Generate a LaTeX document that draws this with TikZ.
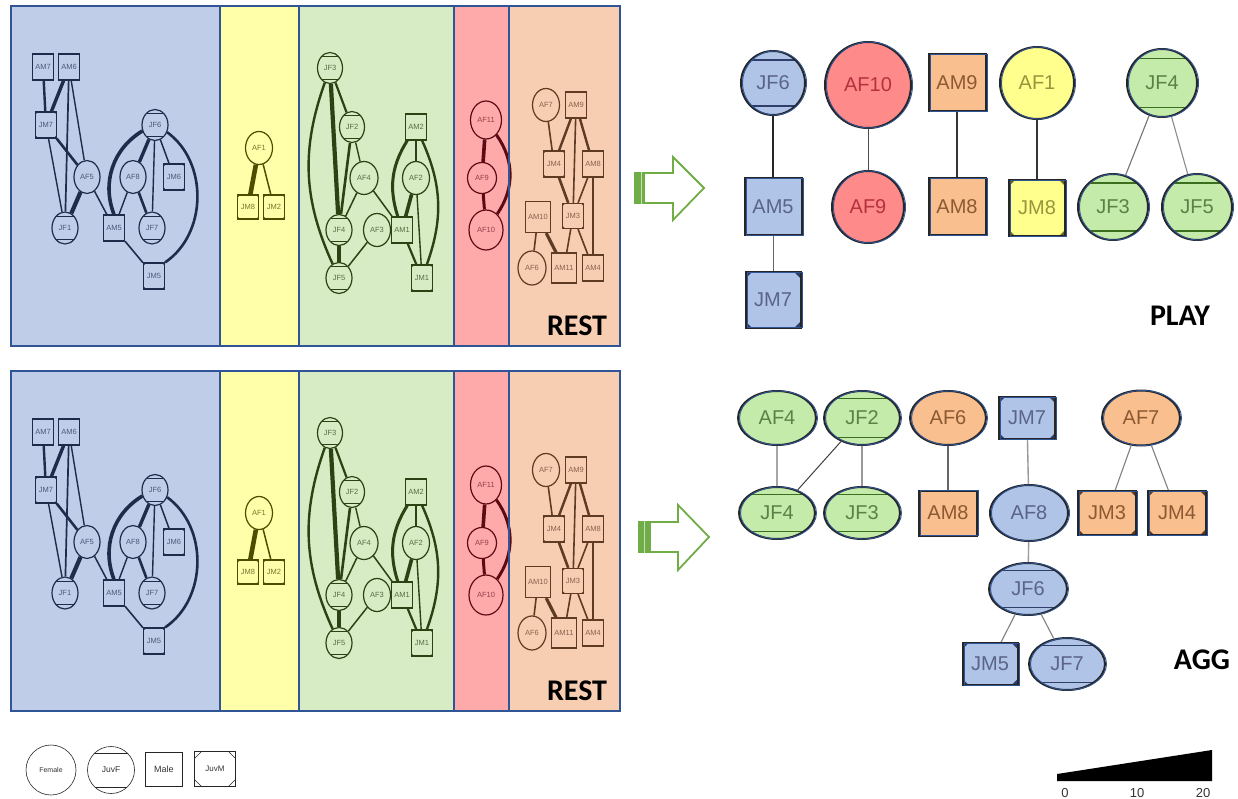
\documentclass[tikz,border=0pt]{standalone}
\usepackage{fontspec}
\setmainfont{Liberation Sans}
\newfontfamily\calibfont{Carlito}
\usetikzlibrary{shapes.geometric,calc}

% panel backgrounds and frame
\definecolor{frameblue}{HTML}{2F5597}
\definecolor{pblue}{HTML}{BFCDE8}
\definecolor{pyellow}{HTML}{FFFFAA}
\definecolor{pgreen}{HTML}{D7EBC5}
\definecolor{pred}{HTML}{FFAAAA}
\definecolor{porange}{HTML}{F8CEB2}
% panel line colours
\definecolor{eblue}{HTML}{1E2B4A}
\definecolor{eyellow}{HTML}{4D4D00}
\definecolor{egreen}{HTML}{2B4213}
\definecolor{ered}{HTML}{5C0A14}
\definecolor{eorange}{HTML}{5E3B22}
% panel text colours
\definecolor{tblue}{HTML}{4E5878}
\definecolor{tyellow}{HTML}{76762E}
\definecolor{tgreen}{HTML}{586C44}
\definecolor{tred}{HTML}{94404A}
\definecolor{torange}{HTML}{8A624E}
% large graph fills, text and marks
\definecolor{nblue}{HTML}{B0C4E8}
\definecolor{nred}{HTML}{FF8A8A}
\definecolor{norange}{HTML}{F9BF8E}
\definecolor{nyellow}{HTML}{FFFF8E}
\definecolor{ngreen}{HTML}{C4EBAA}
\definecolor{xblue}{HTML}{5A6488}
\definecolor{xred}{HTML}{B4323C}
\definecolor{xorange}{HTML}{8C5A32}
\definecolor{xyellow}{HTML}{96963C}
\definecolor{xgreen}{HTML}{5A8246}
\definecolor{dblue}{HTML}{2F3F6A}
\definecolor{dyellow}{HTML}{6B6B10}
\definecolor{dgreen}{HTML}{3C6E20}
\definecolor{dorange}{HTML}{5E3B22}
\definecolor{arrgreen}{HTML}{70AD47}

\colorlet{ecol}{eblue}
\colorlet{tcol}{tblue}

\tikzset{
  jfchords/.style 2 args={path picture={
    \draw[draw=#2, line width=#1]
      ($(path picture bounding box.north west)!0.14!(path picture bounding box.south west)$) --
      ($(path picture bounding box.north east)!0.14!(path picture bounding box.south east)$)
      ($(path picture bounding box.north west)!0.86!(path picture bounding box.south west)$) --
      ($(path picture bounding box.north east)!0.86!(path picture bounding box.south east)$);}},
  jmcorners/.style 2 args={path picture={
    \fill[#2] (path picture bounding box.north west) -- ++(#1,0pt) -- ++(-#1,-#1) -- cycle
      (path picture bounding box.north east) -- ++(-#1,0pt) -- ++(#1,-#1) -- cycle
      (path picture bounding box.south west) -- ++(#1,0pt) -- ++(-#1,#1) -- cycle
      (path picture bounding box.south east) -- ++(-#1,0pt) -- ++(#1,#1) -- cycle;}},
  cornerlines/.style={path picture={
    \draw[line width=0.6pt] (path picture bounding box.north west) ++(7pt,0pt) -- ++(-7pt,-7pt)
      (path picture bounding box.north east) ++(-7pt,0pt) -- ++(7pt,-7pt)
      (path picture bounding box.south west) ++(7pt,0pt) -- ++(-7pt,7pt)
      (path picture bounding box.south east) ++(-7pt,0pt) -- ++(7pt,7pt);}},
  sz/.style 2 args={minimum width=#1, minimum height=#2},
  % small nodes inside the coloured panels
  sn/.style={font=\fontsize{7.5}{8}\selectfont, inner sep=0pt, draw=ecol, text=tcol, line width=1.2pt},
  sf/.style={sn, ellipse, sz={26pt}{33pt}},
  sjf/.style={sf, jfchords={0.7pt}{ecol}},
  sm/.style={sn, rectangle, sz={21pt}{26pt}},
  sjm/.style={sm, jmcorners={2.5pt}{ecol}},
  se/.style={draw=ecol, line width=#1},
  panelframe/.style={draw=frameblue, line width=1.6pt},
  lbl/.style={font=\calibfont\bfseries\fontsize{30}{30}\selectfont, inner sep=0pt},
  % large nodes of the PLAY and AGG graphs
  bn/.style={inner sep=0pt, font=\fontsize{20}{20}\selectfont, draw=black!85, line width=2pt,
    postaction={draw=frameblue, line width=0.9pt, transform canvas={xshift=1.5pt}}},
  bf/.style={bn, ellipse},
  bjf/.style={bf, jfchords={1.5pt}{#1}},
  bm/.style={bn, rectangle},
  bjm/.style={bm, jmcorners={6pt}{#1}},
  cbl/.style={fill=nblue, text=xblue},
  crd/.style={fill=nred, text=xred},
  cor/.style={fill=norange, text=xorange},
  cye/.style={fill=nyellow, text=xyellow},
  cgr/.style={fill=ngreen, text=xgreen},
  pe/.style={line width=#1},
  lg/.style={draw=black!85, line width=0.6pt, inner sep=0pt, text=black!80},
  scl/.style={font=\fontsize{13}{13}\selectfont, text=black!80, inner sep=0pt},
}

% one row of five coloured REST panels
\newcommand\restset[1]{%
  \fill[pblue] (11,6) rectangle (220,346);
  \fill[pyellow] (220,6) rectangle (299,346);
  \fill[pgreen] (299,6) rectangle (454,346);
  \fill[pred] (454,6) rectangle (509,346);
  \fill[porange] (509,6) rectangle (620,346);
  % blue group
  \begin{scope}
    \colorlet{ecol}{eblue}\colorlet{tcol}{tblue}
    \node[sm] (AM7#1) at (43,67) {AM7};
    \node[sm] (AM6#1) at (69,67) {AM6};
    \node[sjm] (JM7#1) at (46,125) {JM7};
    \node[sf] (AF5#1) at (87,177) {AF5};
    \node[sjf, sz={26pt}{32pt}] (JF1#1) at (65,228) {JF1};
    \node[sm] (AM5#1) at (114,228) {AM5};
    \node[sf] (AF8#1) at (133,177) {AF8};
    \node[sjf, sz={26pt}{31pt}] (JF6#1) at (155,125) {JF6};
    \node[sjm] (JM6#1) at (174,177) {JM6};
    \node[sjf, sz={26pt}{32pt}] (JF7#1) at (152,228) {JF7};
    \node[sjm] (JM5#1) at (154,276) {JM5};
    \draw[se=2.4pt] (AM7#1) -- (JM7#1);
    \draw[se=3.4pt] (AM6#1) -- (JM7#1);
    \draw[se=1.7pt] (AM6#1) -- (JF1#1);
    \draw[se=1.4pt] (AM6#1) -- (AF5#1);
    \draw[se=2.6pt] (JM7#1) -- (AF5#1);
    \draw[se=1.4pt] (JM7#1) -- (JF1#1);
    \draw[se=4.2pt] (AF5#1) -- (JF1#1);
    \draw[se=1.5pt] (AF5#1) -- (AM5#1);
    \draw[se=3.6pt] (JF6#1) to[bend right=40] (AM5#1.north);
    \draw[se=3.4pt] (JF6#1) -- (AF8#1);
    \draw[se=1.4pt] (JF6#1) -- (JF7#1);
    \draw[se=1.5pt] (JF6#1) -- (JM6#1);
    \draw[se=2.6pt] (JF6#1) to[bend left=55] (JM5#1.north east);
    \draw[se=1.4pt] (AF8#1) -- (AM5#1);
    \draw[se=2.6pt] (AF8#1) -- (JF7#1);
    \draw[se=1.6pt] (AM5#1) -- (JM5#1);
  \end{scope}
  % yellow group
  \begin{scope}
    \colorlet{ecol}{eyellow}\colorlet{tcol}{tyellow}
    \node[sf, sz={27pt}{33pt}] (AF1#1) at (259,148) {AF1};
    \node[sjm, sz={21pt}{24pt}] (JM8#1) at (248,207) {JM8};
    \node[sjm, sz={21pt}{24pt}] (JM2#1) at (274,207) {JM2};
    \draw[se=4.6pt] (AF1#1) -- (JM8#1);
    \draw[se=1.5pt] (AF1#1) -- (JM2#1);
  \end{scope}
  % green group
  \begin{scope}
    \colorlet{ecol}{egreen}\colorlet{tcol}{tgreen}
    \node[sjf, sz={25pt}{31pt}] (JF3#1) at (330,68) {JF3};
    \node[sjf, sz={25pt}{31pt}] (JF2#1) at (352,127) {JF2};
    \node[sf, sz={28pt}{33pt}] (AF4#1) at (364,178) {AF4};
    \node[sf, sz={27pt}{33pt}] (AF2#1) at (416,178) {AF2};
    \node[sm] (AM2#1) at (416,127) {AM2};
    \node[sjf, sz={26pt}{31pt}] (JF4#1) at (339,230) {JF4};
    \node[sf, sz={27pt}{33pt}] (AF3#1) at (377,230) {AF3};
    \node[sm] (AM1#1) at (402,230) {AM1};
    \node[sjf, sz={26pt}{31pt}] (JF5#1) at (339,278) {JF5};
    \node[sjm] (JM1#1) at (422,278) {JM1};
    \draw[se=2.4pt] (JF3#1) to[bend right=22] (JF5#1);
    \draw[se=4.2pt] (JF3#1) -- (JF4#1);
    \draw[se=2.2pt] (JF3#1) -- (JF2#1);
    \draw[se=2.6pt] (JF2#1) -- (JF4#1);
    \draw[se=1.4pt] (JF2#1) -- (AF4#1);
    \draw[se=1.5pt] (AF4#1) -- (JF4#1);
    \draw[se=1.5pt] (AF4#1) -- (AM1#1);
    \draw[se=3.6pt] (JF4#1) -- (JF5#1);
    \draw[se=1.5pt] (AF3#1) -- (JF5#1);
    \draw[se=1.5pt] (AM2#1) -- (AF2#1);
    \draw[se=3pt] (AM2#1) to[bend right=25] (AM1#1);
    \draw[se=2.4pt] (AM2#1) to[bend left=22] (JM1#1);
    \draw[se=3.6pt] (AF2#1) -- (AM1#1);
    \draw[se=1.4pt] (AF2#1) -- (JM1#1);
    \draw[se=2.2pt] (AM1#1) -- (JM1#1);
  \end{scope}
  % red group
  \begin{scope}
    \colorlet{ecol}{ered}\colorlet{tcol}{tred}
    \node[sf, sz={31pt}{38pt}] (AF11#1) at (486,120) {AF11};
    \node[sf, sz={29pt}{31pt}] (AF9#1) at (482,178) {AF9};
    \node[sf, sz={34pt}{40pt}] (AF10#1) at (486,230) {AF10};
    \draw[se=3.6pt] (AF11#1) -- (AF9#1);
    \draw[se=3pt] (AF9#1) -- (AF10#1);
    \draw[se=3pt] (AF11#1) to[bend left=35] (AF10#1);
  \end{scope}
  % orange group
  \begin{scope}
    \colorlet{ecol}{eorange}\colorlet{tcol}{torange}
    \node[sf, sz={27pt}{33pt}] (AF7#1) at (546,105) {AF7};
    \node[sm] (AM9#1) at (576,105) {AM9};
    \node[sjm] (JM4#1) at (554,164) {JM4};
    \node[sm] (AM8#1) at (593,164) {AM8};
    \node[sm, sz={25pt}{31pt}] (AM10#1) at (538,217) {AM10};
    \node[sjm, sz={21pt}{25pt}] (JM3#1) at (573,216) {JM3};
    \node[sf, sz={28pt}{34pt}] (AF6#1) at (532,268) {AF6};
    \node[sm, sz={25pt}{30pt}] (AM11#1) at (564,268) {AM11};
    \node[sm] (AM4#1) at (593,268) {AM4};
    \draw[se=1.6pt] (AF7#1) -- (JM4#1);
    \draw[se=2.4pt] (AM9#1) -- (JM4#1);
    \draw[se=1.6pt] (AM9#1) -- (JM3#1);
    \draw[se=2.4pt] (AM9#1) -- (AM8#1);
    \draw[se=2.6pt] (JM4#1) -- (JM3#1);
    \draw[se=1.6pt] (AM8#1) -- (JM3#1);
    \draw[se=1.6pt] (AM8#1) -- (AM4#1);
    \draw[se=3.2pt] (AM10#1) -- (AM11#1);
    \draw[se=1.6pt] (AM10#1) -- (AF6#1);
    \draw[se=1.6pt] (JM3#1) -- (AM11#1);
    \draw[se=1.6pt] (JM3#1) -- (AM4#1);
  \end{scope}
  % frames
  \draw[panelframe] (11,6) rectangle (220,346);
  \draw[panelframe] (220,6) rectangle (299,346);
  \draw[panelframe] (299,6) rectangle (454,346);
  \draw[panelframe] (454,6) rectangle (509,346);
  \draw[panelframe] (509,6) rectangle (620,346);
  \node[lbl] (rest#1) at (577,326) {REST};
}

\begin{document}
\begin{tikzpicture}[x=1pt,y=-1pt]
\useasboundingbox (0,0) rectangle (1238,799);
\fill[white] (0,0) rectangle (1238,799);

% the two rows of REST panels
\restset{t}
\begin{scope}[yshift=-365pt]
  \restset{b}
\end{scope}

% block arrows
\fill[arrgreen] (634,172) rectangle (644,204);
\draw[white!60!arrgreen, line width=1pt] (641.5,172) -- (641.5,204);
\draw[arrgreen, line width=1.8pt, fill=white, line join=miter]
  (644,173) -- (673,173) -- (673,157) -- (704,188) -- (673,220) -- (673,203) -- (644,203) -- cycle;
\fill[arrgreen] (638,521) rectangle (650,553);
\draw[white!60!arrgreen, line width=1.2pt] (644.3,521) -- (644.3,553);
\draw[arrgreen, line width=1.8pt, fill=white, line join=miter]
  (650,522) -- (678,522) -- (678,505) -- (709,537) -- (678,570) -- (678,552) -- (650,552) -- cycle;

% PLAY graph
\node[bjf=dblue, cbl, sz={64pt}{64pt}] (pJF6) at (773,83) {JF6};
\node[bf, crd, sz={86pt}{86pt}] (pAF10) at (868,85) {AF10};
\node[bm, cor, sz={57pt}{57pt}] (pAM9) at (957,83) {AM9};
\node[bf, cye, sz={74pt}{72pt}] (pAF1) at (1037,83) {AF1};
\node[bjf=dgreen, cgr, sz={70pt}{68pt}] (pJF4) at (1162,83) {JF4};
\node[bm, cbl, sz={57pt}{57pt}] (pAM5) at (773,207) {AM5};
\node[bf, crd, sz={72pt}{72pt}] (pAF9) at (868,207) {AF9};
\node[bm, cor, sz={57pt}{57pt}] (pAM8) at (957,207) {AM8};
\node[bjm=dyellow, cye, sz={56pt}{56pt}] (pJM8) at (1037,208) {JM8};
\node[bjf=dgreen, cgr, sz={70pt}{66pt}] (pJF3) at (1113,207) {JF3};
\node[bjf=dgreen, cgr, sz={70pt}{66pt}] (pJF5) at (1197,207) {JF5};
\node[bjm=dblue, cbl, sz={55pt}{55pt}] (pJM7) at (773,300) {JM7};
\draw[pe=2.6pt, black!85] (pJF6) -- (pAM5);
\draw[pe=1pt, black!70] (pAF10) -- (pAF9);
\draw[pe=1.6pt, black!80] (pAM9) -- (pAM8);
\draw[pe=1.6pt, black!80] (pAF1) -- (pJM8);
\draw[pe=1.1pt, black!55] (pJF4) -- (pJF3);
\draw[pe=1.1pt, black!45] (pJF4) -- (pJF5);
\draw[pe=1pt, black!60] (pAM5) -- (pJM7);
\node[lbl] (play) at (1180,316) {PLAY};

% AGG graph
\node[bf, cgr, sz={78pt}{54pt}] (aAF4) at (777,418) {AF4};
\node[bjf=dgreen, cgr, sz={76pt}{54pt}] (aJF2) at (862,418) {JF2};
\node[bf, cor, sz={76pt}{54pt}] (aAF6) at (948,418) {AF6};
\node[bjm=dblue, cbl, sz={56pt}{42pt}] (aJM7) at (1027,418) {JM7};
\node[bf, cor, sz={78pt}{55pt}] (aAF7) at (1141,418) {AF7};
\node[bjf=dgreen, cgr, sz={76pt}{52pt}] (aJF4) at (777,513) {JF4};
\node[bjf=dgreen, cgr, sz={76pt}{52pt}] (aJF3) at (862,513) {JF3};
\node[bm, cor, sz={58pt}{45pt}] (aAM8) at (948,513) {AM8};
\node[bf, cbl, sz={78pt}{56pt}] (aAF8) at (1029,513) {AF8};
\node[bjm=dorange, cor, sz={58pt}{44pt}] (aJM3) at (1107,513) {JM3};
\node[bjm=dorange, cor, sz={58pt}{44pt}] (aJM4) at (1177,513) {JM4};
\node[bjf=dblue, cbl, sz={78pt}{52pt}] (aJF6) at (1028,589) {JF6};
\node[bjm=dblue, cbl, sz={55pt}{42pt}] (aJM5) at (990,664) {JM5};
\node[bjf=dblue, cbl, sz={76pt}{52pt}] (aJF7) at (1067,664) {JF7};
\draw[pe=1.8pt, black!35] (aAF4) -- (aJF4);
\draw[pe=1pt, black!75] (aJF2) -- (aJF4);
\draw[pe=1.4pt, black!40] (aJF2) -- (aJF3);
\draw[pe=1.1pt, black!60] (aAF6) -- (aAM8);
\draw[pe=1.4pt, black!40] (aJM7) -- (aAF8);
\draw[pe=1.4pt, black!40] (aAF8) -- (aJF6);
\draw[pe=1.1pt, black!50] (aAF7) -- (aJM3);
\draw[pe=1.1pt, black!50] (aAF7) -- (aJM4);
\draw[pe=1.1pt, black!50] (aJF6) -- (aJM5);
\draw[pe=1.1pt, black!50] (aJF6) -- (aJF7);
\node[lbl] (agg) at (1202,660) {AGG};

% legend
\node[lg, circle, minimum size=50pt, font=\fontsize{7}{7}\selectfont] (lgF) at (51,770) {Female};
\node[lg, circle, minimum size=47pt, font=\fontsize{8.5}{9}\selectfont, jfchords={0.6pt}{black!85}] (lgJF) at (111,770) {JuvF};
\node[lg, rectangle, sz={37pt}{34pt}, font=\fontsize{9}{9}\selectfont] (lgM) at (164,769) {Male};
\node[lg, rectangle, sz={41pt}{35pt}, font=\fontsize{8}{8}\selectfont, cornerlines] (lgJM) at (215,769) {JuvM};

% edge weight scale
\fill[black] (1057,781) -- (1057,774) -- (1212,750) -- (1212,781) -- cycle;
\node[scl] (s0) at (1065,793) {0};
\node[scl] (s10) at (1137,793) {10};
\node[scl] (s20) at (1203,793) {20};
\end{tikzpicture}
\end{document}
